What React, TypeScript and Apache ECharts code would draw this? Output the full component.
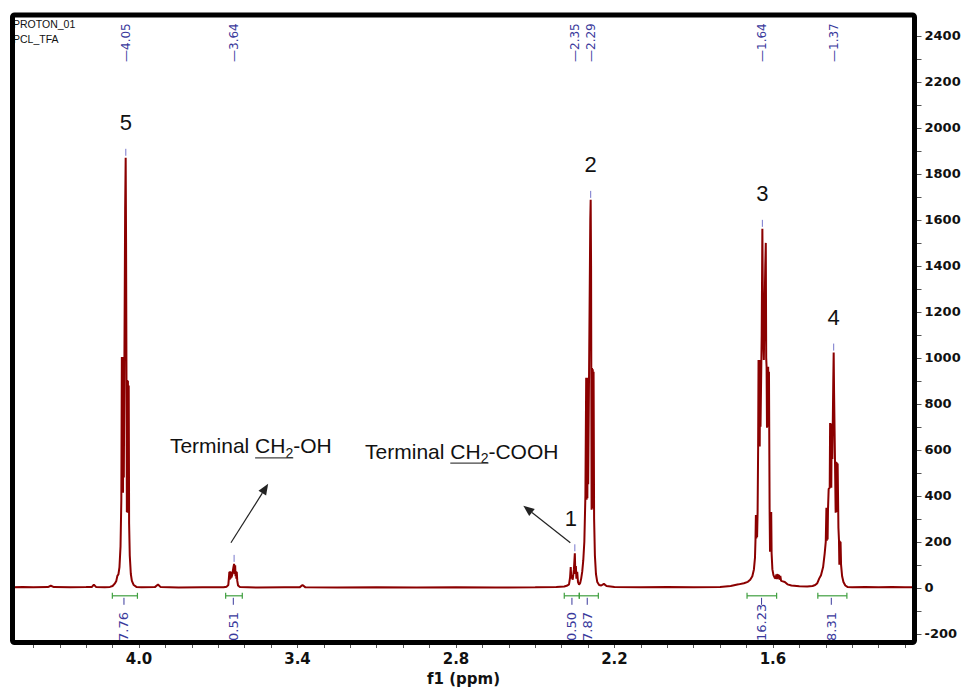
import React, { useEffect, useRef } from "react";
import * as echarts from "echarts";

// ---------- spectrum (ppm, intensity) ----------
const baselineA = [
  [4.479, 2], [4.44, 3], [4.4, 2], [4.345, 3], [4.334, 9], [4.322, 3], [4.26, 2], [4.2, 3],
  [4.178, 4], [4.171, 14], [4.163, 4], [4.13, 2], [4.11, 4],
];
const peak5 = [
  [4.1, 8], [4.092, 18], [4.086, 30], [4.082, 52], [4.078, 58], [4.074, 90], [4.07, 180],
  [4.067, 380], [4.065, 1004], [4.0635, 420], [4.062, 1000], [4.0605, 413], [4.059, 1004],
  [4.0575, 480], [4.0525, 1650], [4.0505, 1870], [4.049, 1500], [4.046, 330], [4.045, 904],
  [4.0435, 326], [4.042, 900], [4.0405, 330], [4.039, 880], [4.0375, 280], [4.035, 140],
  [4.031, 60], [4.027, 30], [4.02, 12], [4.01, 4],
];
const baselineB = [
  [3.99, 2], [3.94, 3], [3.928, 14], [3.918, 3], [3.85, 1], [3.76, 2], [3.68, 2], [3.668, 5],
];
const peak364 = [
  [3.662, 12], [3.6595, 45], [3.658, 70], [3.6565, 35], [3.655, 72], [3.6535, 40], [3.652, 70],
  [3.65, 45], [3.6465, 60], [3.6425, 90], [3.64, 104], [3.638, 60], [3.636, 98], [3.6345, 50],
  [3.633, 72], [3.6315, 40], [3.63, 70], [3.628, 30], [3.625, 10], [3.618, 3],
];
const baselineC = [
  [3.55, 1], [3.45, 2], [3.392, 2], [3.381, 12], [3.37, 2], [3.25, 1], [3.1, 2], [2.95, 1],
  [2.8, 2], [2.65, 1], [2.5, 2], [2.42, 3], [2.39, 6], [2.378, 10],
];
const peak1 = [
  [2.372, 15], [2.368, 45], [2.3655, 90], [2.3635, 40], [2.361, 55], [2.358, 35], [2.3535, 80],
  [2.35, 150], [2.348, 60], [2.346, 95], [2.344, 40], [2.341, 70], [2.338, 25], [2.334, 14],
  [2.33, 20],
];
const peak2 = [
  [2.326, 40], [2.322, 70], [2.318, 120], [2.314, 200], [2.31, 400], [2.307, 913], [2.3055, 383],
  [2.304, 900], [2.3025, 390], [2.301, 913], [2.2995, 450], [2.2915, 1600], [2.29, 1687],
  [2.2885, 1400], [2.2865, 339], [2.285, 956], [2.2835, 345], [2.282, 950], [2.2805, 350],
  [2.279, 940], [2.277, 300], [2.274, 140], [2.27, 60], [2.265, 25], [2.258, 12],
];
const baselineD = [
  [2.25, 10], [2.24, 17], [2.23, 8], [2.2, 3], [2.1, 2], [2.0, 3], [1.9, 2], [1.8, 4], [1.76, 8],
  [1.73, 15], [1.71, 20], [1.695, 26],
];
const peak3 = [
  [1.686, 35], [1.678, 50], [1.672, 80], [1.668, 130], [1.666, 209], [1.6645, 317], [1.663, 215],
  [1.6615, 310], [1.66, 220], [1.658, 330], [1.656, 609], [1.6545, 991], [1.653, 620],
  [1.6515, 985], [1.65, 615], [1.6485, 991], [1.647, 700], [1.6425, 1100], [1.64, 1561],
  [1.637, 1100], [1.6345, 991], [1.629, 1400], [1.627, 1500], [1.6255, 1000], [1.624, 961],
  [1.6225, 696], [1.621, 955], [1.6195, 700], [1.618, 961], [1.6165, 700], [1.615, 940],
  [1.6125, 330], [1.611, 157], [1.6095, 325], [1.608, 160], [1.6065, 330], [1.605, 150],
  [1.602, 80], [1.598, 55], [1.594, 45],
];
const baselineE = [
  [1.59, 40], [1.587, 58], [1.585, 38], [1.582, 60], [1.58, 40], [1.577, 56], [1.575, 35],
  [1.572, 52], [1.569, 30], [1.563, 28], [1.555, 25], [1.545, 15], [1.53, 10], [1.5, 7],
  [1.47, 6], [1.45, 8], [1.44, 12],
];
const peak4 = [
  [1.432, 20], [1.425, 40], [1.418, 55], [1.41, 90], [1.404, 150], [1.4, 200], [1.3975, 348],
  [1.396, 205], [1.3945, 345], [1.393, 210], [1.3915, 340], [1.389, 430], [1.385, 435],
  [1.3835, 717], [1.382, 440], [1.3805, 715], [1.379, 435], [1.3775, 700], [1.375, 560],
  [1.3715, 900], [1.37, 1023], [1.3685, 850], [1.365, 550], [1.3625, 326], [1.361, 548],
  [1.3595, 330], [1.358, 545], [1.3565, 330], [1.355, 540], [1.352, 260], [1.35, 209],
  [1.3485, 100], [1.347, 205], [1.3455, 105], [1.344, 200], [1.342, 100], [1.338, 50],
  [1.333, 25], [1.326, 10], [1.318, 4],
];
const baselineF = [[1.3, 2], [1.25, 3], [1.2, 2], [1.15, 3], [1.1, 2], [1.064, 2]];

// ---------- peak picking ----------
const peakPpm = [4.05, 3.64, 2.35, 2.29, 1.64, 1.37];
const peakTop = [1870, 104, 150, 1687, 1561, 1023];
const peakText = ["4.05", "3.64", "2.35", "2.29", "1.64", "1.37"];

// ---------- integrals ----------
const integralFrom = [4.101, 3.672, 2.39, 2.333, 1.698, 1.43];
const integralTo = [4.006, 3.609, 2.333, 2.261, 1.586, 1.32];
const integralMark = [4.057, 3.643, 2.361, 2.303, 1.643, 1.379];
const integralValue = ["7.76", "0.51", "0.50", "7.87", "16.23", "8.31"];

// ---------- assignments ----------
const assignLabel = ["5", "2", "3", "4", "1"];
const assignPpm = [4.05, 2.29, 1.64, 1.37, 2.365];
const assignTop = [1870, 1687, 1561, 1023, 150];

const noteStart = [3.883, 3.144];
const noteLevel = [617, 594];
const notePrefix = ["Terminal ", "Terminal "];
const noteGroup = ["CH", "CH"];
const noteSub = ["2", "2"];
const noteSuffix = ["-OH", "-COOH"];

const arrowFrom = [[3.652, 196], [2.367, 196]];
const arrowTo = [[3.511, 452], [2.545, 357]];

// ---------- axes ----------
const xLabelValues = [4.0, 3.4, 2.8, 2.2, 1.6];
const xTickValues = [
  4.4, 4.3, 4.2, 4.1, 4.0, 3.9, 3.8, 3.7, 3.6, 3.5, 3.4, 3.3, 3.2, 3.1, 3.0, 2.9, 2.8, 2.7, 2.6,
  2.5, 2.4, 2.3, 2.2, 2.1, 2.0, 1.9, 1.8, 1.7, 1.6, 1.5, 1.4, 1.3, 1.2, 1.1,
];
const yLabelValues = [-200, 0, 200, 400, 600, 800, 1000, 1200, 1400, 1600, 1800, 2000, 2200, 2400];
const yTickValues = [
  -200, -100, 0, 100, 200, 300, 400, 500, 600, 700, 800, 900, 1000, 1100, 1200, 1300, 1400, 1500,
  1600, 1700, 1800, 1900, 2000, 2100, 2200, 2300, 2400,
];

const spectrum = [
  ...baselineA, ...peak5, ...baselineB, ...peak364, ...baselineC, ...peak1, ...peak2,
  ...baselineD, ...peak3, ...baselineE, ...peak4, ...baselineF,
];

const GRID_L = 12.5;
const GRID_T = 15;
const GRID_W = 902;
const GRID_H = 627.5;
const BLUE = "#3a3a9c";
const MARK_BLUE = "#7777cc";
const GREEN = "#3f9f3f";
const RED = "#8b0000";
const TXT = "#111";
const ANNOT_FONT_FAMILY = '"Liberation Sans", Arial, sans-serif';

let measureCtx: CanvasRenderingContext2D | null = null;
function textWidth(t: string, font: string) {
  if (!measureCtx) measureCtx = document.createElement("canvas").getContext("2d");
  measureCtx!.font = font;
  return measureCtx!.measureText(t).width;
}

function rotText(x: number, y: number, text: string, font: string, fill: string) {
  return {
    type: "text",
    x,
    y,
    rotation: Math.PI / 2,
    style: {
      text,
      fill,
      font,
      align: "left",
      textAlign: "left",
      verticalAlign: "middle",
      textVerticalAlign: "middle",
    },
  };
}

export default function App() {
  const ref = useRef<HTMLDivElement>(null);
  useEffect(() => {
    document.body.style.margin = "0";
    const chart = echarts.init(ref.current!, null, { renderer: "svg", width: 965, height: 691 });
    const option: any = {
      animation: false,
      backgroundColor: "#ffffff",
      grid: {
        left: GRID_L,
        top: GRID_T,
        width: GRID_W,
        height: GRID_H,
      },
      xAxis: {
        type: "value",
        min: 1.064,
        max: 4.479,
        inverse: true,
        axisLine: { show: false, onZero: false },
        splitLine: { show: false },
        axisTick: {
          show: true,
          length: 8,
          customValues: xTickValues,
          lineStyle: { color: "#555", width: 1 },
        },
        axisLabel: {
          customValues: xLabelValues,
          formatter: (v: number) => v.toFixed(1),
          fontFamily: "DejaVu Sans",
          fontWeight: "bold",
          fontSize: 15,
          color: TXT,
          margin: 11,
        },
        name: "f1 (ppm)",
        nameLocation: "middle",
        nameGap: 31,
        nameTextStyle: { fontFamily: "DejaVu Sans", fontWeight: "bold", fontSize: 15, color: TXT },
      },
      yAxis: {
        type: "value",
        position: "right",
        min: -227,
        max: 2491,
        axisLine: { show: false, onZero: false },
        splitLine: { show: false },
        axisTick: {
          show: true,
          length: 7,
          customValues: yTickValues,
          lineStyle: { color: "#555", width: 1 },
        },
        axisLabel: {
          customValues: yLabelValues,
          formatter: (v: number) => String(v),
          fontFamily: "DejaVu Sans",
          fontWeight: "bold",
          fontSize: 13,
          color: TXT,
          margin: 10,
        },
      },
      series: [
        {
          type: "line",
          data: spectrum,
          showSymbol: false,
          symbol: "none",
          clip: true,
          silent: true,
          lineStyle: { color: RED, width: 2 },
          z: 3,
        },
        {
          // peak picking labels + markers
          type: "custom",
          silent: true,
          clip: false,
          z: 4,
          data: peakPpm.map((p, i) => [p, peakTop[i]]),
          renderItem: (params: any, api: any) => {
            const i = params.dataIndex;
            const [px, py] = api.coord([peakPpm[i], peakTop[i]]);
            const topY = params.coordSys.y;
            return {
              type: "group",
              children: [
                {
                  type: "line",
                  shape: { x1: px, y1: py - 9, x2: px, y2: py - 2 },
                  style: { stroke: MARK_BLUE, lineWidth: 1 },
                },
                rotText(px, topY + 47, "\u2014" + peakText[i], '12px "DejaVu Sans"', BLUE),
              ],
            };
          },
        },
        {
          // integrals
          type: "custom",
          silent: true,
          clip: false,
          z: 4,
          data: integralMark.map((m) => [m, 0]),
          renderItem: (params: any, api: any) => {
            const i = params.dataIndex;
            const zeroY = api.coord([integralMark[i], 0])[1];
            const y = zeroY + 8;
            const xa = api.coord([integralFrom[i], 0])[0];
            const xb = api.coord([integralTo[i], 0])[0];
            const xm = api.coord([integralMark[i], 0])[0];
            const bottom = params.coordSys.y + params.coordSys.height;
            const gs = { stroke: GREEN, lineWidth: 1.2 };
            return {
              type: "group",
              children: [
                { type: "line", shape: { x1: xa, y1: y, x2: xb, y2: y }, style: gs },
                { type: "line", shape: { x1: xa, y1: y - 3, x2: xa, y2: y + 3 }, style: gs },
                { type: "line", shape: { x1: xb, y1: y - 3, x2: xb, y2: y + 3 }, style: gs },
                {
                  type: "line",
                  shape: { x1: xm, y1: y + 2, x2: xm, y2: y + 9 },
                  style: { stroke: BLUE, lineWidth: 1 },
                },
                rotText(xm, bottom + 1, integralValue[i], '13px "DejaVu Sans"', BLUE),
              ],
            };
          },
        },
        {
          // assignment numbers
          type: "custom",
          silent: true,
          clip: false,
          z: 4,
          data: assignPpm.map((p, i) => [p, assignTop[i]]),
          renderItem: (params: any, api: any) => {
            const i = params.dataIndex;
            const [px, py] = api.coord([assignPpm[i], assignTop[i]]);
            return {
              type: "text",
              x: px,
              y: py - 35,
              style: {
                text: assignLabel[i],
                fill: TXT,
                font: `22px ${ANNOT_FONT_FAMILY}`,
                align: "center",
                textAlign: "center",
                verticalAlign: "middle",
                textVerticalAlign: "middle",
              },
            };
          },
        },
        {
          // notes
          type: "custom",
          silent: true,
          clip: false,
          z: 4,
          data: noteStart.map((p, i) => [p, noteLevel[i]]),
          renderItem: (params: any, api: any) => {
            const i = params.dataIndex;
            const [x0, yc] = api.coord([noteStart[i], noteLevel[i]]);
            const font = `21px ${ANNOT_FONT_FAMILY}`;
            const subFont = `14px ${ANNOT_FONT_FAMILY}`;
            const w1 = textWidth(notePrefix[i], font);
            const w2 = textWidth(noteGroup[i], font);
            const w3 = textWidth(noteSub[i], subFont);
            const t = (x: number, y: number, text: string, f: string) => ({
              type: "text",
              x,
              y,
              style: {
                text,
                fill: TXT,
                font: f,
                align: "left",
                textAlign: "left",
                verticalAlign: "middle",
                textVerticalAlign: "middle",
              },
            });
            return {
              type: "group",
              children: [
                t(x0, yc, notePrefix[i], font),
                t(x0 + w1, yc, noteGroup[i], font),
                t(x0 + w1 + w2, yc + 7, noteSub[i], subFont),
                t(x0 + w1 + w2 + w3, yc, noteSuffix[i], font),
                {
                  type: "line",
                  shape: { x1: x0 + w1, y1: yc + 12, x2: x0 + w1 + w2 + w3, y2: yc + 12 },
                  style: { stroke: "#444", lineWidth: 1.2 },
                },
              ],
            };
          },
        },
        {
          // arrows
          type: "custom",
          silent: true,
          clip: false,
          z: 4,
          data: arrowFrom.map((a) => a),
          renderItem: (params: any, api: any) => {
            const i = params.dataIndex;
            const p1 = api.coord(arrowFrom[i]);
            const p2 = api.coord(arrowTo[i]);
            const dx = p2[0] - p1[0];
            const dy = p2[1] - p1[1];
            const len = Math.sqrt(dx * dx + dy * dy);
            const ux = dx / len;
            const uy = dy / len;
            const hl = 11;
            const hw = 4.5;
            const bx = p2[0] - ux * hl;
            const by = p2[1] - uy * hl;
            return {
              type: "group",
              children: [
                {
                  type: "line",
                  shape: { x1: p1[0], y1: p1[1], x2: bx, y2: by },
                  style: { stroke: "#222", lineWidth: 1.2 },
                },
                {
                  type: "polygon",
                  shape: {
                    points: [
                      [p2[0], p2[1]],
                      [bx - uy * hw, by + ux * hw],
                      [bx + uy * hw, by - ux * hw],
                    ],
                  },
                  style: { fill: "#222" },
                },
              ],
            };
          },
        },
      ],
      graphic: [
        {
          type: "text",
          x: 13,
          y: 24,
          z: 50,
          style: {
            text: "PROTON_01",
            fill: TXT,
            font: '10.5px "Liberation Sans", Arial',
            verticalAlign: "middle",
            textVerticalAlign: "middle",
          },
        },
        {
          type: "text",
          x: 13,
          y: 39,
          z: 50,
          style: {
            text: "PCL_TFA",
            fill: TXT,
            font: '10.5px "Liberation Sans", Arial',
            verticalAlign: "middle",
            textVerticalAlign: "middle",
          },
        },
        {
          type: "rect",
          z: 100,
          shape: { x: GRID_L, y: GRID_T, width: GRID_W, height: GRID_H, r: 2 },
          style: { fill: "none", stroke: "#000", lineWidth: 5 },
        },
      ],
    };
    chart.setOption(option);
    return () => chart.dispose();
  }, []);
  return (
    <div
      ref={ref}
      style={{ width: 965, height: 691, position: "absolute", left: 0, top: 0 }}
    />
  );
}
